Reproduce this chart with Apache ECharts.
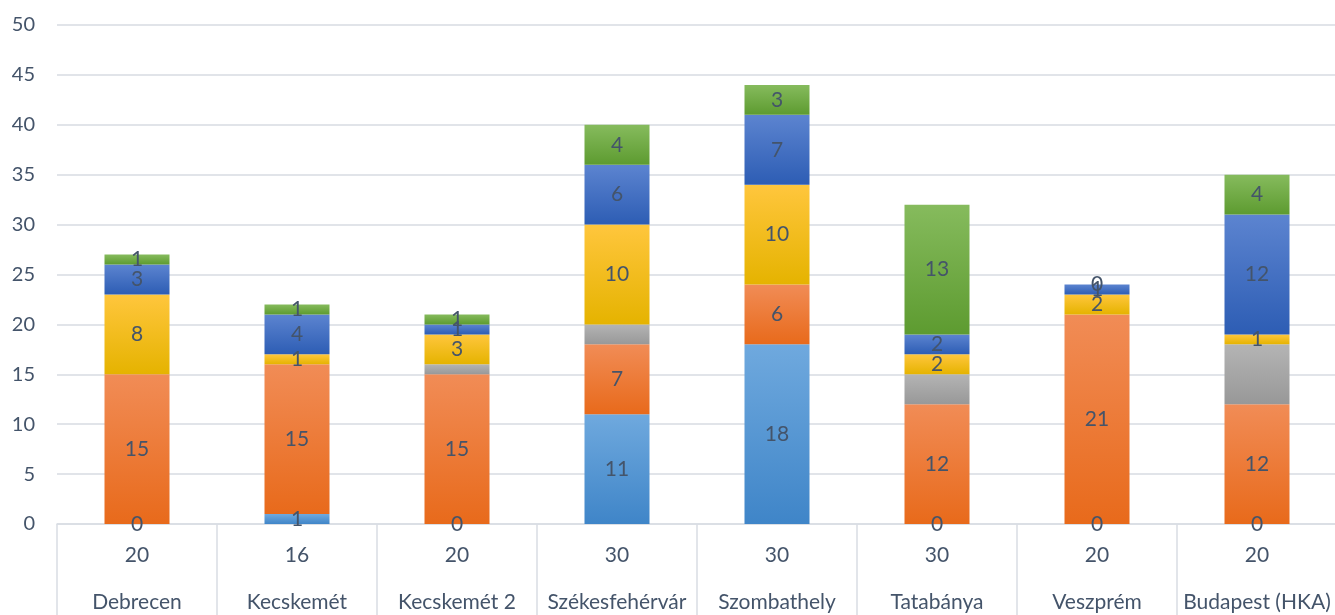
<!DOCTYPE html>
<html>
<head>
<meta charset="utf-8">
<script src="https://cdn.jsdelivr.net/npm/echarts@6/dist/echarts.min.js"></script>
<style>
  html, body { margin: 0; padding: 0; background: #fff; }
  #main { width: 1335px; height: 615px; }
</style>
</head>
<body>
<div id="main"></div>
<script>
// kategóriák (két szintű tengely)
const cities = ['Debrecen', 'Kecskemét', 'Kecskemét 2', 'Székesfehérvár', 'Szombathely', 'Tatabánya', 'Veszprém', 'Budapest (HKA)'];
const capacity = [20, 16, 20, 30, 30, 30, 20, 20];

// sorozatok, alulról felfelé
const s1 = [0, 1, 0, 11, 18, 0, 0, 0];     // világoskék
const s2 = [15, 15, 15, 7, 6, 12, 21, 12]; // narancs
const s3 = [0, 0, 1, 2, 0, 3, 0, 6];       // szürke
const s4 = [8, 1, 3, 10, 10, 2, 2, 1];     // sárga
const s5 = [3, 4, 1, 6, 7, 2, 1, 12];      // sötétkék
const s6 = [1, 1, 1, 4, 3, 13, 0, 4];      // zöld

const yTicks = [0, 5, 10, 15, 20, 25, 30, 35, 40, 45, 50];

const fontFamily = 'Lato, "Noto Sans", sans-serif';
const textColor = '#44546a';

function grad(top, bottom) {
  return new echarts.graphic.LinearGradient(0, 0, 0, 1, [
    { offset: 0, color: top },
    { offset: 1, color: bottom }
  ]);
}

function makeSeries(name, data, top, bottom, showLabel) {
  return {
    name: name,
    type: 'bar',
    stack: 'total',
    barWidth: 65,
    data: data,
    itemStyle: { color: grad(top, bottom) },
    label: {
      show: showLabel,
      position: 'inside',
      color: textColor,
      fontSize: 21,
      fontFamily: fontFamily
    }
  };
}

const dom = document.getElementById('main');
const myChart = echarts.init(dom);

myChart.setOption({
  animation: false,
  grid: { left: 57, right: -2, top: 25, bottom: 91, outerBoundsMode: 'none', containLabel: false },
  xAxis: {
    type: 'category',
    data: cities.map((c, i) => capacity[i] + '\n' + c),
    axisLine: { show: true, lineStyle: { color: '#d9dde3', width: 1.5 } },
    axisTick: { show: true, interval: 0, length: 91, lineStyle: { color: '#d9dde3', width: 1.5 } },
    axisLabel: {
      interval: 0,
      margin: 8,
      color: textColor,
      fontFamily: fontFamily,
      fontSize: 21,
      lineHeight: 47
    }
  },
  yAxis: {
    type: 'value',
    min: yTicks[0],
    max: yTicks[yTicks.length - 1],
    interval: 5,
    axisLine: { show: false },
    axisTick: { show: false },
    axisLabel: { color: textColor, fontFamily: fontFamily, fontSize: 20, margin: 22 },
    splitLine: { lineStyle: { color: '#e1e4e9', width: 2 } }
  },
  series: [
    makeSeries('s1', s1, '#6fa9de', '#3f85c8', true),
    makeSeries('s2', s2, '#f18c56', '#e86a1b', true),
    makeSeries('s3', s3, '#b4b4b4', '#989898', false),
    makeSeries('s4', s4, '#ffc63d', '#e5b300', true),
    makeSeries('s5', s5, '#5c84d0', '#2d5db4', true),
    makeSeries('s6', s6, '#86bb5d', '#5d9b30', true)
  ]
});
</script>
</body>
</html>
